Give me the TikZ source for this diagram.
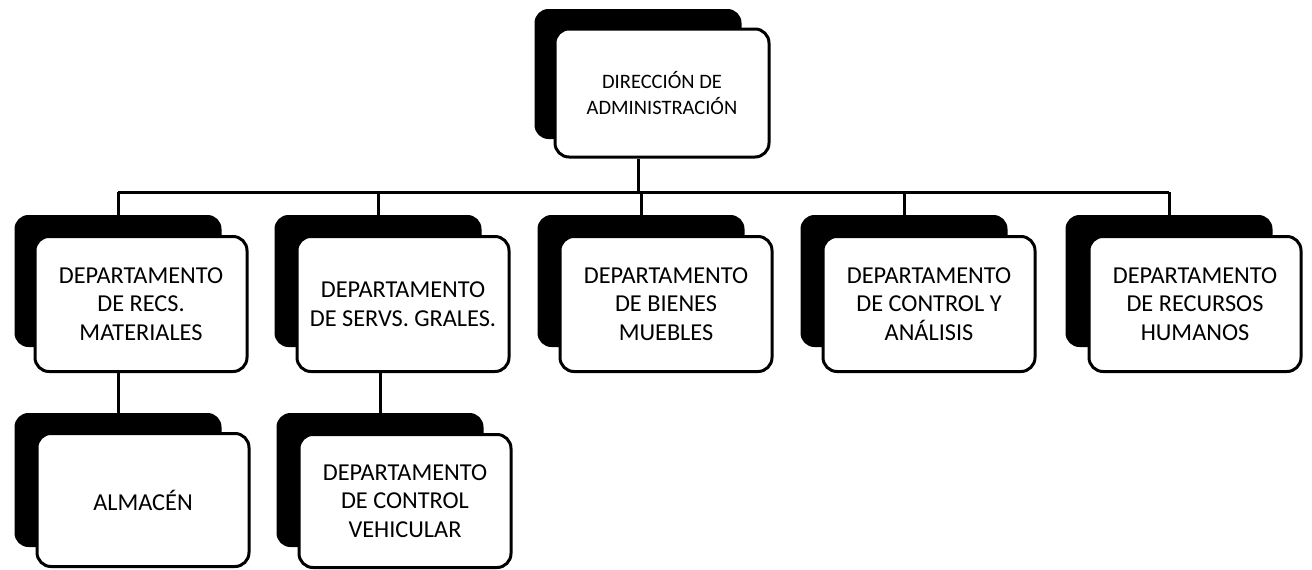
\documentclass[tikz,border=0pt]{standalone}
\usepackage{fontspec}
\setmainfont{Carlito}
\begin{document}
\begin{tikzpicture}[x=1pt,y=-1pt,
  front/.style={draw=black, line width=3pt, fill=white, rounded corners=14pt,
    minimum width=212pt, minimum height=135pt, align=center, inner sep=0pt,
    font=\fontsize{24.3}{28.5}\selectfont},
  shade/.style={fill=black, rounded corners=14pt, minimum width=207pt,
    minimum height=132pt, inner sep=0pt},
  conn/.style={line width=3pt}]
\useasboundingbox (0,0) rectangle (1312,570);
% shadows
\node[shade, minimum height=130pt] (st) at (638,74) {};
\node[shade] (s1) at (118,281) {};
\node[shade] (s2) at (378,281) {};
\node[shade] (s3) at (641,281) {};
\node[shade] (s4) at (904,281) {};
\node[shade] (s5) at (1169,281) {};
\node[shade, minimum height=134pt] (s6) at (118,480) {};
\node[shade, minimum height=134pt] (s7) at (380,480) {};
% front boxes
\node[front, minimum width=214pt, minimum height=128pt,
  font=\fontsize{20.5}{25.5}\selectfont] (t) at (662,93) {DIRECCIÓN DE\\ADMINISTRACIÓN};
\node[front] (b1) at (141,304) {DEPARTAMENTO\\DE RECS.\\MATERIALES};
\node[front] (b2) at (403,304) {DEPARTAMENTO\\DE SERVS. GRALES.};
\node[front] (b3) at (666,304) {DEPARTAMENTO\\DE BIENES\\MUEBLES};
\node[front] (b4) at (929,304) {DEPARTAMENTO\\DE CONTROL Y\\ANÁLISIS};
\node[front] (b5) at (1195,304) {DEPARTAMENTO\\DE RECURSOS\\HUMANOS};
\node[front, minimum height=133pt] (b6) at (143,500) {ALMACÉN};
\node[front, minimum height=133pt] (b7) at (405,501) {DEPARTAMENTO\\DE CONTROL\\VEHICULAR};
% connectors
\coordinate (bus) at (638,192);
\draw[conn] (st.south |- t.south) -- (st.south |- bus);
\draw[conn] (s1.north |- bus) -- (s5.north |- bus);
\foreach \i in {1,...,5} {\draw[conn] (s\i.north |- bus) -- (s\i.north);}
\draw[conn] (s6.north |- b1.south) -- (s6.north);
\draw[conn] (s7.north |- b2.south) -- (s7.north);
\end{tikzpicture}
\end{document}
